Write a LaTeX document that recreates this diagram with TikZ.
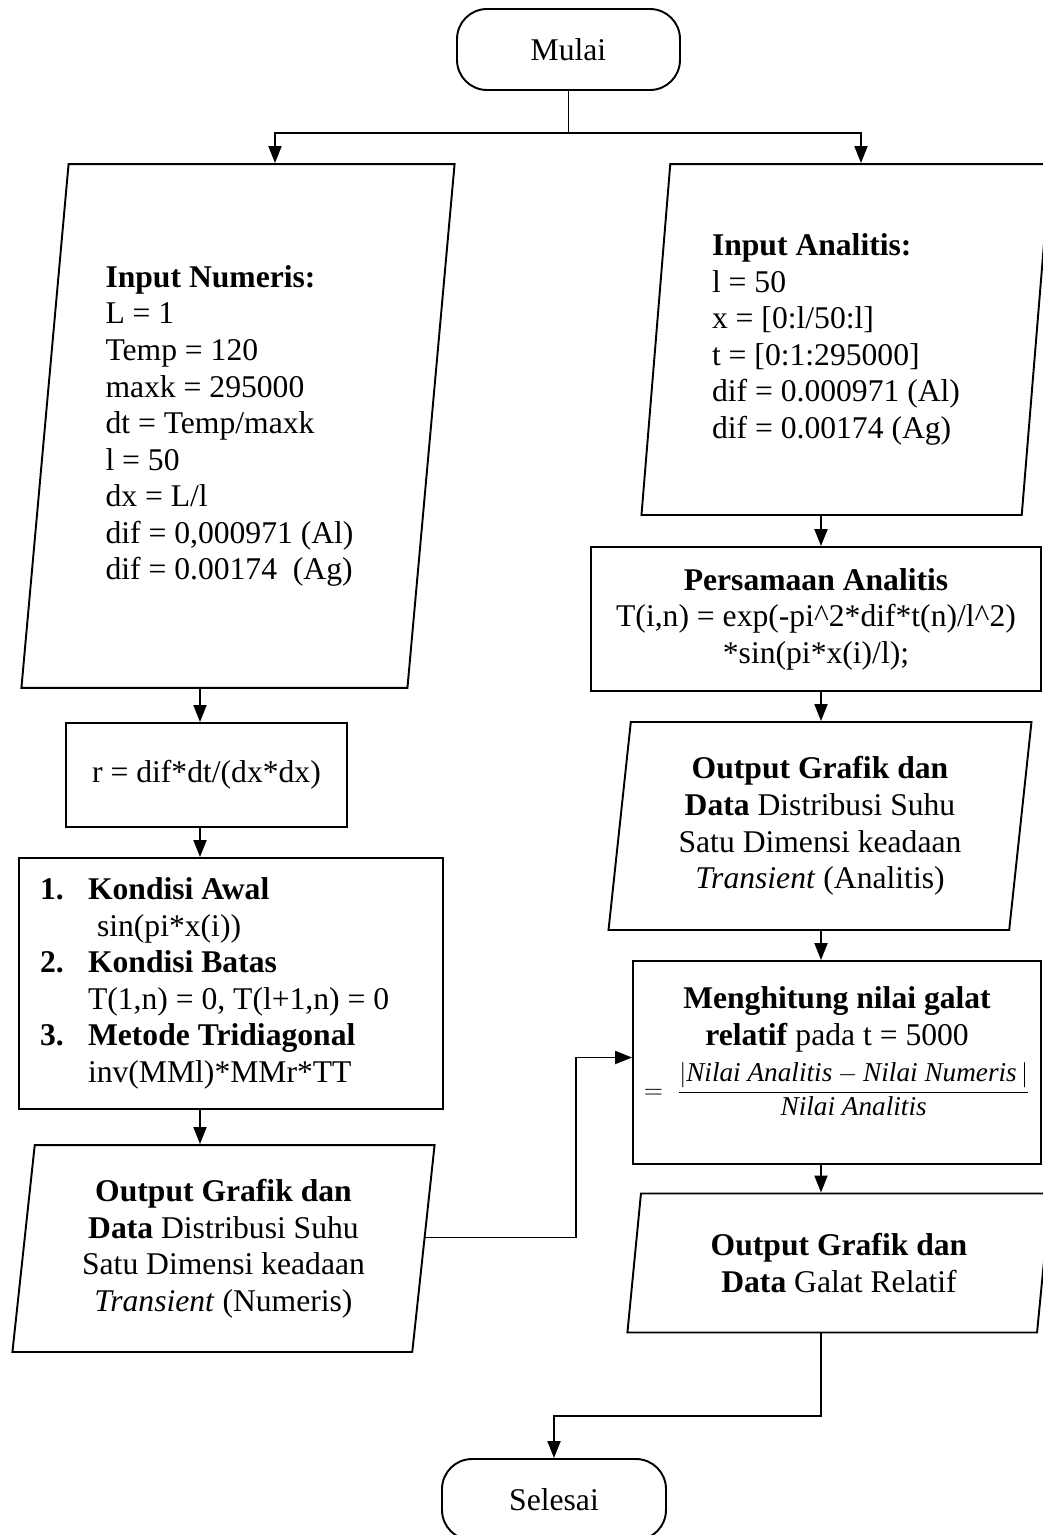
\documentclass[tikz,border=0pt]{standalone}
\usepackage{amsmath}
\usepackage{fontspec}
\setmainfont{Liberation Serif}
\usetikzlibrary{arrows.meta,shapes.geometric}

\tikzset{
  line/.style={line width=1.1pt},
  arr/.style={line, -{Triangle[length=0.34cm,width=0.26cm]}},
  box/.style={draw, line, rectangle, align=center},
  term/.style={draw, line, rectangle, rounded corners=0.6cm, minimum width=4.46cm, minimum height=1.62cm},
  io/.style={draw, line, trapezium, trapezium stretches=true}
}

\begin{document}
\begin{tikzpicture}[x=0.02cm, y=-0.02cm, font=\fontsize{18}{20.8}\selectfont]
\useasboundingbox (0,0) rectangle (1043,1535);
\coordinate (split) at (568.5,133);
\coordinate (cL) at (275,0);
\coordinate (cR) at (861,0);
\coordinate (axL) at (200,0);
\coordinate (axR) at (821,0);
\coordinate (knee) at (576,1150);
\coordinate (join) at (554,1416);
\node[term] (mulai) at (568.5,49.5) {Mulai};
\node[io, align=left, trapezium left angle=83.4, trapezium right angle=96.6, minimum width=8.68cm, minimum height=10.48cm] (inum) at (238,426) {\textbf{Input Numeris:}\\
L = 1\\
Temp = 120\\
maxk = 295000\\
dt = Temp/maxk\\
l = 50\\
dx = L/l\\
dif = 0,000971 (Al)\hspace*{0.34cm}\mbox{}\\
dif = 0.00174~~(Ag)};
\node[io, align=left, trapezium left angle=84.14, trapezium right angle=95.86, minimum width=8.2cm, minimum height=7.02cm] (iana) at (846,339.5) {\textbf{Input Analitis:}\\
l = 50\\
x = [0:l/50:l]\\
t = [0:1:295000]\\
dif = 0.000971 (Al)\hspace*{0.4cm}\mbox{}\\
dif = 0.00174 (Ag)};
\node[box, minimum width=5.62cm, minimum height=2.08cm] (rbox) at (206.5,775) {r = dif*dt/(dx*dx)};
\node[box, align=flush left, text width=7.64cm, inner xsep=0.42cm, minimum height=5.02cm] (kond) at (231,983.5) {\makebox[0.96cm][l]{\textbf{1.}}\textbf{Kondisi Awal}\\
\hspace*{1.14cm}sin(pi*x(i))\\
\makebox[0.96cm][l]{\textbf{2.}}\textbf{Kondisi Batas}\\
\hspace*{0.96cm}T(1,n) = 0, T(l+1,n) = 0\\
\makebox[0.96cm][l]{\textbf{3.}}\textbf{Metode Tridiagonal}\\
\hspace*{0.96cm}inv(MMl)*MMr*TT};
\node[io, align=center, trapezium left angle=83.39, trapezium right angle=96.61, minimum width=8.46cm, minimum height=4.14cm] (lout) at (223.5,1248.5) {\textbf{Output Grafik dan}\\
\textbf{Data} Distribusi Suhu\\
Satu Dimensi keadaan\\
\textit{Transient} (Numeris)};
\node[box, minimum width=9cm, minimum height=2.88cm] (pers) at (816,619) {\textbf{Persamaan Analitis}\\
T(i,n) = exp(-pi\textasciicircum2*dif*t(n)/l\textasciicircum2)\\
*sin(pi*x(i)/l);};
\node[box, minimum width=8.16cm, minimum height=4.06cm] (galat) at (837,1062.5) {\textbf{Menghitung nilai galat}\\
\textbf{relatif} pada t = 5000\\[5pt]
{\fontsize{15.5}{18}\selectfont $=\;\dfrac{|\textit{Nilai Analitis} - \textit{Nilai Numeris}\,|}{\textit{Nilai Analitis}}$}\\[2pt]
\mbox{}};
\node[io, align=center, trapezium left angle=83.42, trapezium right angle=96.58, minimum width=8.48cm, minimum height=4.16cm] (oana) at (820,826) {\textbf{Output Grafik dan}\\
\textbf{Data} Distribusi Suhu\\
Satu Dimensi keadaan\\
\textit{Transient} (Analitis)};
\node[io, align=center, trapezium left angle=82.62, trapezium right angle=97.38, minimum width=8.48cm, minimum height=2.78cm] (ogal) at (839,1263) {\textbf{Output Grafik dan}\\
\textbf{Data} Galat Relatif};
\node[term, minimum width=4.48cm] (selesai) at (554,1499.5) {Selesai};
\draw[line] (mulai) -- (split);
\draw[arr] (split) -| (inum.north -| cL);
\draw[arr] (split) -| (iana.north -| cR);
\draw[arr] (inum.south -| axL) -- (rbox.north -| axL);
\draw[arr] (rbox.south -| axL) -- (kond.north -| axL);
\draw[arr] (kond.south -| axL) -- (lout.north -| axL);
\draw[arr] ([yshift=0.22cm]lout.east) -| (knee) |- ([yshift=0.1cm]galat.west);
\draw[arr] (iana.south -| axR) -- (pers.north -| axR);
\draw[arr] (pers.south -| axR) -- (oana.north -| axR);
\draw[arr] (oana.south -| axR) -- (galat.north -| axR);
\draw[arr] (galat.south -| axR) -- (ogal.north -| axR);
\draw[arr] (ogal.south -| axR) |- (join) -- (selesai.north);
\end{tikzpicture}
\end{document}
